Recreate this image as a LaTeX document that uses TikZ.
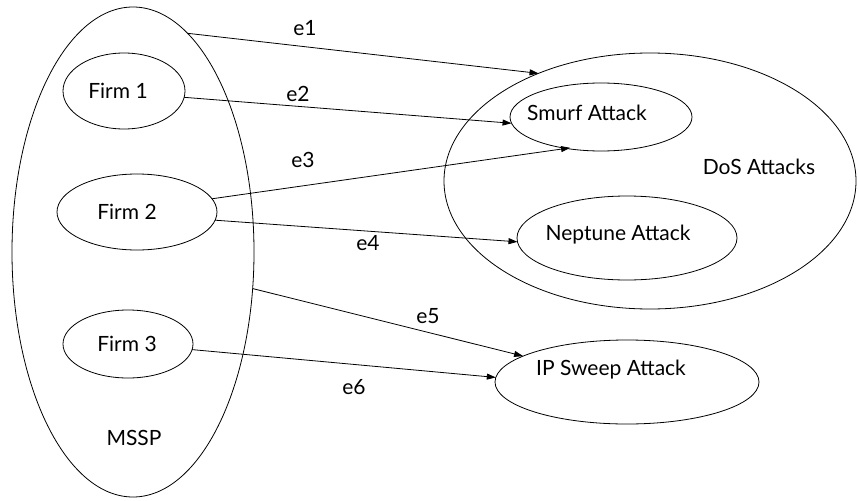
\documentclass[tikz,border=0pt]{standalone}
\usepackage{fontspec}
\setmainfont{Lato}
\usetikzlibrary{shapes.geometric,arrows.meta}

\begin{document}
\begin{tikzpicture}[x=1pt, y=-1pt,
    blob/.style={draw, ellipse, line width=0.8pt, inner sep=0pt, outer sep=0pt},
    txt/.style={font=\fontsize{21}{24}\selectfont},
    edge/.style={line width=0.8pt, -{Triangle[length=9pt, width=6pt]}},
    elbl/.style={font=\fontsize{21}{24}\selectfont}]
  \useasboundingbox (0,0) rectangle (858,500);
  % the provider and its firms
  \node[blob, minimum width=242, minimum height=490,
    label={[txt, shift={(1,186)}]center:MSSP}] (mssp) at (133,252) {};
  \node[blob, minimum width=122, minimum height=76,
    label={[txt, shift={(-6,0)}]center:Firm 1}] (firm1) at (124,91) {};
  \node[blob, minimum width=160, minimum height=76,
    label={[txt, shift={(-10,0)}]center:Firm 2}] (firm2) at (137,212) {};
  \node[blob, minimum width=130, minimum height=68,
    label={[txt, shift={(-1,0)}]center:Firm 3}] (firm3) at (128,344) {};
  % the attacks
  \node[blob, minimum width=412, minimum height=256,
    label={[txt, shift={(109,-14)}]center:DoS Attacks}] (dos) at (650,181) {};
  \node[blob, minimum width=182, minimum height=68,
    label={[txt, shift={(-14,-4)}]center:Smurf Attack}] (smurf) at (601,117) {};
  \node[blob, minimum width=220, minimum height=84,
    label={[txt, shift={(-9,-3)}]center:Neptune Attack}] (neptune) at (627,238) {};
  \node[blob, minimum width=264, minimum height=84,
    label={[txt, shift={(-16,-12)}]center:IP Sweep Attack}] (ipsweep) at (627,382) {};
  % edges e1..e6
  \draw[edge] (mssp.76) -- (dos.136);
  \draw[edge] (firm1.-6) -- (smurf.184);
  \draw[edge, shorten >=-4pt] (firm2.10) -- (smurf.222);
  \draw[edge] (firm2.-6) -- (neptune.182);
  \draw[edge] (mssp.-17) -- (ipsweep.166);
  \draw[edge] (firm3.-5) -- (ipsweep.178);
  \node[elbl] (l1) at (305,28) {e1};
  \node[elbl] (l2) at (298,94) {e2};
  \node[elbl] (l3) at (303,160) {e3};
  \node[elbl] (l4) at (368,243) {e4};
  \node[elbl] (l5) at (428,316) {e5};
  \node[elbl] (l6) at (354,387) {e6};
\end{tikzpicture}
\end{document}
